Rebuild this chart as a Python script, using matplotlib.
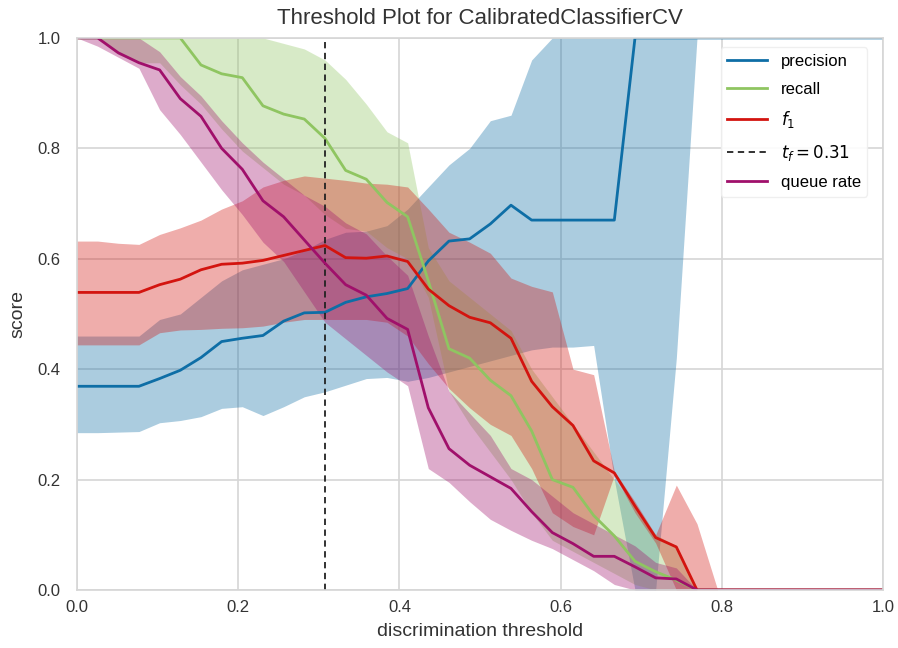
import numpy as np
import matplotlib
matplotlib.use("Agg")
import matplotlib.pyplot as plt

plt.rcParams["font.family"] = ["Liberation Sans", "DejaVu Sans"]
plt.rcParams["mathtext.fontset"] = "dejavusans"

# discrimination thresholds (uniform grid, 40 steps)
thresholds = np.linspace(0, 1, 40)

# median scores and 10th / 90th percentile bands across trials
precision = [0.369, 0.369, 0.369, 0.369, 0.383, 0.398, 0.421, 0.450, 0.456, 0.461,
             0.487, 0.502, 0.503, 0.521, 0.531, 0.537, 0.546, 0.596, 0.632, 0.636,
             0.663, 0.697, 0.670, 0.670, 0.670, 0.670, 0.670, 1.0, 1.0, 1.0,
             1.0, 1.0, 1.0, 1.0, 1.0, 1.0, 1.0, 1.0, 1.0, 1.0]
precision_lo = [0.285, 0.285, 0.286, 0.287, 0.303, 0.307, 0.314, 0.329, 0.332, 0.316,
                0.332, 0.350, 0.359, 0.371, 0.383, 0.385, 0.378, 0.385, 0.395, 0.405,
                0.415, 0.425, 0.435, 0.440, 0.440, 0.443, 0.200, 0.0, 0.0, 0.420,
                1.0, 1.0, 1.0, 1.0, 1.0, 1.0, 1.0, 1.0, 1.0, 1.0]
precision_hi = [0.460, 0.460, 0.460, 0.460, 0.490, 0.500, 0.530, 0.560, 0.580, 0.590,
                0.600, 0.615, 0.635, 0.648, 0.650, 0.660, 0.690, 0.730, 0.770, 0.800,
                0.850, 0.860, 0.960, 1.0, 1.0, 1.0, 1.0, 1.0, 1.0, 1.0,
                1.0, 1.0, 1.0, 1.0, 1.0, 1.0, 1.0, 1.0, 1.0, 1.0]

recall = [1.0, 1.0, 1.0, 1.0, 1.0, 1.0, 0.951, 0.935, 0.928, 0.877,
          0.862, 0.853, 0.818, 0.760, 0.744, 0.702, 0.676, 0.560, 0.437, 0.420,
          0.380, 0.352, 0.288, 0.200, 0.186, 0.135, 0.098, 0.052, 0.033, 0.018,
          0.0, 0.0, 0.0, 0.0, 0.0, 0.0, 0.0, 0.0, 0.0, 0.0]
recall_lo = [1.0, 1.0, 0.970, 0.955, 0.955, 0.915, 0.880, 0.835, 0.795, 0.765,
             0.735, 0.715, 0.680, 0.655, 0.650, 0.620, 0.600, 0.530, 0.360, 0.300,
             0.250, 0.200, 0.140, 0.090, 0.070, 0.050, 0.030, 0.010, 0.0, 0.0,
             0.0, 0.0, 0.0, 0.0, 0.0, 0.0, 0.0, 0.0, 0.0, 0.0]
recall_hi = [1.0, 1.0, 1.0, 1.0, 1.0, 1.0, 1.0, 1.0, 1.0, 1.0,
             0.990, 0.980, 0.960, 0.925, 0.880, 0.830, 0.810, 0.620, 0.560, 0.530,
             0.500, 0.470, 0.400, 0.350, 0.300, 0.250, 0.200, 0.150, 0.100, 0.080,
             0.0, 0.0, 0.0, 0.0, 0.0, 0.0, 0.0, 0.0, 0.0, 0.0]

f1 = [0.539, 0.539, 0.539, 0.539, 0.553, 0.563, 0.580, 0.590, 0.592, 0.597,
      0.606, 0.615, 0.624, 0.602, 0.601, 0.605, 0.595, 0.545, 0.515, 0.494,
      0.484, 0.456, 0.378, 0.332, 0.298, 0.234, 0.212, 0.152, 0.095, 0.078,
      0.0, 0.0, 0.0, 0.0, 0.0, 0.0, 0.0, 0.0, 0.0, 0.0]
f1_lo = [0.444, 0.444, 0.444, 0.444, 0.466, 0.471, 0.472, 0.474, 0.475, 0.478,
         0.485, 0.490, 0.490, 0.490, 0.490, 0.485, 0.460, 0.410, 0.365, 0.330,
         0.300, 0.280, 0.220, 0.140, 0.115, 0.100, 0.208, 0.140, 0.085, 0.0,
         0.0, 0.0, 0.0, 0.0, 0.0, 0.0, 0.0, 0.0, 0.0, 0.0]
f1_hi = [0.632, 0.632, 0.628, 0.626, 0.644, 0.656, 0.670, 0.690, 0.705, 0.730,
         0.742, 0.750, 0.746, 0.742, 0.737, 0.735, 0.730, 0.690, 0.648, 0.630,
         0.610, 0.565, 0.550, 0.540, 0.400, 0.390, 0.215, 0.160, 0.100, 0.190,
         0.120, 0.0, 0.0, 0.0, 0.0, 0.0, 0.0, 0.0, 0.0, 0.0]

queue_rate = [1.0, 1.0, 0.973, 0.955, 0.942, 0.890, 0.858, 0.800, 0.762, 0.705,
              0.676, 0.634, 0.592, 0.553, 0.534, 0.492, 0.472, 0.330, 0.256, 0.226,
              0.205, 0.184, 0.142, 0.104, 0.084, 0.061, 0.061, 0.042, 0.022, 0.020,
              0.0, 0.0, 0.0, 0.0, 0.0, 0.0, 0.0, 0.0, 0.0, 0.0]
queue_lo = [1.0, 0.985, 0.965, 0.945, 0.870, 0.825, 0.775, 0.725, 0.680, 0.630,
            0.595, 0.540, 0.485, 0.455, 0.425, 0.395, 0.370, 0.220, 0.195, 0.160,
            0.128, 0.108, 0.090, 0.075, 0.055, 0.035, 0.010, 0.0, 0.0, 0.0,
            0.0, 0.0, 0.0, 0.0, 0.0, 0.0, 0.0, 0.0, 0.0, 0.0]
queue_hi = [1.0, 1.0, 1.0, 1.0, 0.975, 0.930, 0.895, 0.850, 0.810, 0.775,
            0.745, 0.715, 0.695, 0.665, 0.645, 0.605, 0.570, 0.460, 0.360, 0.320,
            0.280, 0.220, 0.200, 0.170, 0.140, 0.120, 0.100, 0.080, 0.050, 0.040,
            0.0, 0.0, 0.0, 0.0, 0.0, 0.0, 0.0, 0.0, 0.0, 0.0]

f1_threshold = 0.3077

metrics = [
    ("precision", precision, precision_lo, precision_hi, "#0e6ea6"),
    ("recall", recall, recall_lo, recall_hi, "#8fc561"),
    ("$f_1$", f1, f1_lo, f1_hi, "#d3140f"),
    ("queue rate", queue_rate, queue_lo, queue_hi, "#a0106b"),
]

fig = plt.figure(figsize=(8.98, 6.48), dpi=100)
ax = fig.add_axes([0.0857, 0.0895, 0.8976, 0.852])
ax.set_facecolor("white")

for name, med, lo, hi, color in metrics:
    ax.plot(thresholds, med, color=color, lw=2, label=name)
    ax.fill_between(thresholds, lo, hi, color=color, alpha=0.35, linewidth=0)
    if name == "$f_1$":
        ax.axvline(f1_threshold, ls=(0, (3.5, 2.5)), color="#222222", lw=1.3,
                   label="$t_f = {:0.2f}$".format(f1_threshold))

ax.set_xlim(0, 1)
ax.set_ylim(0, 1)
ax.grid(True, color="#d6d6d6", lw=1.2)
ax.set_axisbelow(True)
for s in ax.spines.values():
    s.set_color("#d6d6d6")
    s.set_linewidth(1.2)
ax.tick_params(colors="#333333", labelsize=12, length=0)
ax.tick_params(axis="x", pad=7)
ax.tick_params(axis="y", pad=12)

ax.set_title("Threshold Plot for CalibratedClassifierCV", fontsize=16, color="#333333", pad=10)
ax.set_xlabel("discrimination threshold", fontsize=14, color="#333333", labelpad=6)
ax.set_ylabel("score", fontsize=14, color="#333333", labelpad=8)

leg = ax.legend(loc="upper right", bbox_to_anchor=(0.991, 0.998), fontsize=12,
                frameon=True, facecolor="white", edgecolor="#eeeeee", framealpha=0.9,
                labelspacing=0.75, handlelength=2.4)

fig.savefig("out.png", dpi=100)
